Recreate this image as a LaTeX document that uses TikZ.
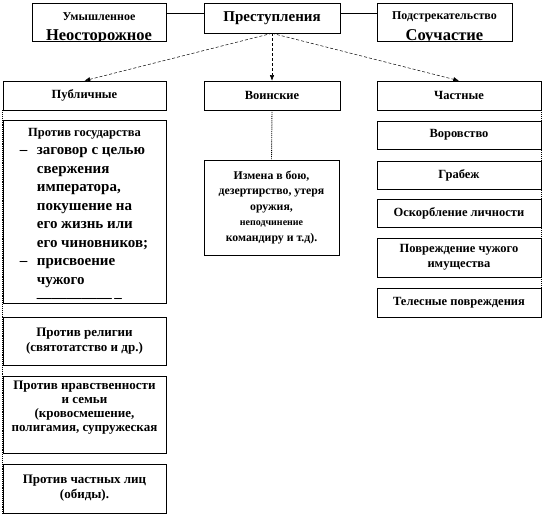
\documentclass[tikz,border=0pt]{standalone}
\usepackage{fontspec}
\setmainfont{Liberation Serif}
\usetikzlibrary{arrows.meta,calc}
\newcommand\mainsz{\fontsize{12.5}{15}\selectfont}
\newcommand\bigsz{\fontsize{15}{18.5}\selectfont}
\tikzset{
  % boxes
  box/.style={draw,rectangle,line width=0.6pt,inner sep=2pt,align=center,font=\bfseries\mainsz},
  txt/.style={inner sep=0pt,align=center,font=\bfseries\mainsz},
  % connectors
  plain/.style={line width=0.6pt},
  branch/.style={-{Latex[length=2mm,width=1.6mm]},line width=0.5pt,densely dashed},
  dotln/.style={line width=0.9pt,densely dotted},
}
\begin{document}
\begin{tikzpicture}[x=1pt,y=-1pt]
  \useasboundingbox (0,0) rectangle (544,516);
  % top row
  \node[box,minimum width=134,minimum height=38] (intent) at (99,22) {};
  \node[box,minimum width=136,minimum height=30,font=\bfseries\fontsize{15}{18}\selectfont] (crimes) at (272,18) {Преступления};
  \node[box,minimum width=135,minimum height=38] (partic) at (444.5,22) {};
  \begin{scope}
    \clip (intent.north west) rectangle (intent.south east);
    \node[txt,font=\bfseries\fontsize{12}{14}\selectfont] (intent1) at ($(intent.north)+(0,14)$) {Умышленное};
    \node[txt,font=\bfseries\fontsize{16.5}{18}\selectfont] (intent2) at ($(intent.north)+(0,34.5)$) {Неосторожное};
  \end{scope}
  \begin{scope}
    \clip (partic.north west) rectangle (partic.south east);
    \node[txt,font=\bfseries\fontsize{12}{14}\selectfont] (partic1) at ($(partic.north)+(0,14)$) {Подстрекательство};
    \node[txt,font=\bfseries\fontsize{16.5}{18}\selectfont] (partic2) at ($(partic.north)+(0,34.5)$) {Соучастие};
  \end{scope}
  \draw[plain] ([yshift=5pt]crimes.west) -- ([yshift=5pt]crimes.west -| intent.east);
  \draw[plain] ([yshift=5pt]crimes.east) -- ([yshift=5pt]crimes.east -| partic.west);

  % second row
  \node[box,minimum width=163,minimum height=29] (public) at (84.5,95.5) {Публичные};
  \node[box,minimum width=136,minimum height=29] (military) at (272,95.5) {Воинские};
  \node[box,minimum width=164,minimum height=29] (private) at (459,95.5) {Частные};
  \draw[branch] (crimes.south) -- (public.north);
  \draw[branch] (crimes.south) -- (military.north);
  \draw[branch] (crimes.south) -- (private.north);

  % public crimes
  \node[box,minimum width=163,minimum height=183] (state) at (84.5,211.5) {};
  \begin{scope}
    \clip (state.north west) rectangle (state.south east);
    \node[txt,anchor=north] (statehead) at ($(state.north)+(0,8)$) {Против государства};
    \node[txt,anchor=north west,align=left,font=\bfseries\bigsz] (statelist) at ($(state.north west)+(17,22)$) {%
      \begin{tabular}{@{}p{17pt}@{}l@{}}
      – & заговор с целью\\
        & свержения\\
        & императора,\\
        & покушение на\\
        & его жизнь или\\
        & его чиновников;\\
      – & присвоение\\
        & чужого\\
        & —————\,--
      \end{tabular}};
  \end{scope}
  \node[box,minimum width=163,minimum height=48,font=\bfseries\fontsize{13}{14.5}\selectfont] (relig) at (84.5,341) {Против религии\\(святотатство  и др.)};
  \node[box,minimum width=163,minimum height=77] (moral) at (84.5,414.5) {};
  \begin{scope}
    \clip (moral.north west) rectangle (moral.south east);
    \node[txt,anchor=north,font=\bfseries\fontsize{13}{14}\selectfont] (moraltxt) at ($(moral.north)+(0,5)$) {Против нравственности\\и семьи\\(кровосмешение,\\полигамия, супружеская};
  \end{scope}
  \node[box,minimum width=163,minimum height=49,font=\bfseries\fontsize{13}{15}\selectfont] (persons) at (84.5,488.5) {Против частных лиц\\(обиды).};
  \draw[dotln] (public.south west) -- (persons.south west);

  % military crimes
  \node[box,minimum width=135,minimum height=95,font=\bfseries\fontsize{11.8}{15.5}\selectfont] (treason) at (271.5,207.5) {Измена в бою,\\дезертирство,  утеря\\оружия,\\{\fontsize{10}{12}\selectfont неподчинение}\\командиру и т.д).};
  \draw[dotln] (military.south) -- (treason.north);

  % private crimes
  \node[box,minimum width=164,minimum height=28] (theft) at (459,135) {Воровство};
  \node[box,minimum width=164,minimum height=28] (robbery) at (459,175) {Грабеж};
  \node[box,minimum width=164,minimum height=28] (insult) at (459,213) {Оскорбление личности};
  \node[box,minimum width=164,minimum height=39] (damage) at (459,257.5) {Повреждение чужого\\имущества};
  \node[box,minimum width=164,minimum height=29] (injury) at (459,302.5) {Телесные повреждения};
  \draw[dotln] (private.south east) -- (injury.south east);
\end{tikzpicture}
\end{document}
